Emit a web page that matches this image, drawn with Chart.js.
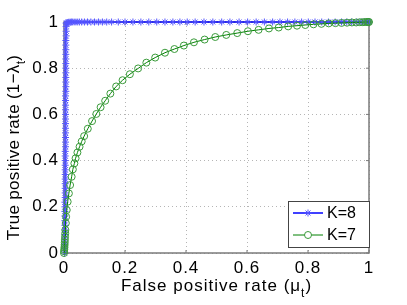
<!DOCTYPE html>
<html>
<head>
<meta charset="utf-8">
<script src="https://cdn.jsdelivr.net/npm/chart.js@4.4.1/dist/chart.umd.min.js"></script>
<style>
  html, body { margin: 0; padding: 0; background: #fff; }
  #wrap { width: 407px; height: 305px; position: relative; }
</style>
</head>
<body>
<div id="wrap"><canvas id="roc"></canvas></div>
<script>
// ROC curves
const fprK8 = [0.002, 0.002, 0.002, 0.002, 0.003, 0.003, 0.003, 0.003, 0.003, 0.003, 0.003,
  0.003, 0.004, 0.004, 0.004, 0.004, 0.004, 0.004, 0.004, 0.004, 0.004,
  0.004, 0.004, 0.005, 0.005, 0.005, 0.005, 0.005, 0.005, 0.005, 0.005,
  0.005, 0.005, 0.005, 0.005, 0.006, 0.006, 0.006, 0.006, 0.006, 0.006,
  0.006, 0.006, 0.006, 0.006, 0.006, 0.006, 0.007, 0.007, 0.007, 0.007,
  0.010, 0.013, 0.016, 0.020, 0.024, 0.029, 0.036, 0.043, 0.050, 0.058, 0.067, 0.077,
  0.088, 0.100, 0.113, 0.126, 0.140, 0.156, 0.178, 0.200, 0.226, 0.252, 0.278, 0.304,
  0.331, 0.357, 0.380, 0.404, 0.430, 0.459, 0.488, 0.517, 0.544, 0.574, 0.602, 0.630,
  0.657, 0.684, 0.708, 0.733, 0.757, 0.779, 0.801, 0.823, 0.845, 0.867, 0.889, 0.910,
  0.927, 0.943, 0.960, 0.976, 0.985, 0.992, 0.997, 1.000];
const tprK8 = [0.00, 0.02, 0.04, 0.06, 0.08, 0.10, 0.12, 0.14, 0.16, 0.18, 0.20,
  0.22, 0.24, 0.26, 0.28, 0.30, 0.32, 0.34, 0.36, 0.38, 0.40,
  0.42, 0.44, 0.46, 0.48, 0.50, 0.52, 0.54, 0.56, 0.58, 0.60,
  0.62, 0.64, 0.66, 0.68, 0.70, 0.72, 0.74, 0.76, 0.78, 0.80,
  0.82, 0.84, 0.86, 0.88, 0.90, 0.92, 0.94, 0.96, 0.98, 0.995,
  0.997, 0.998, 0.999, 0.999, 1, 1, 1, 1, 1, 1, 1, 1,
  1, 1, 1, 1, 1, 1, 1, 1, 1, 1, 1, 1,
  1, 1, 1, 1, 1, 1, 1, 1, 1, 1, 1, 1,
  1, 1, 1, 1, 1, 1, 1, 1, 1, 1, 1, 1,
  1, 1, 1, 1, 1, 1, 1, 1];

const fprK7 = [0, 0.0005, 0.001, 0.0015, 0.002, 0.0025, 0.003, 0.0035, 0.004, 0.0045,
  0.006, 0.007, 0.009, 0.012, 0.016, 0.020, 0.025, 0.029, 0.034, 0.038, 0.044, 0.051, 0.058,
  0.066, 0.078, 0.092, 0.106, 0.120, 0.135, 0.152, 0.171, 0.192, 0.216, 0.243, 0.270,
  0.299, 0.331, 0.362, 0.393, 0.426, 0.461, 0.496, 0.532, 0.568, 0.603, 0.638, 0.672,
  0.704, 0.735, 0.764, 0.791, 0.818, 0.844, 0.868, 0.890, 0.910, 0.928, 0.944, 0.958,
  0.970, 0.980, 0.988, 0.994, 0.998, 1.000];
const tprK7 = [0, 0.008, 0.016, 0.025, 0.035, 0.046, 0.058, 0.071, 0.085, 0.100,
  0.129, 0.157, 0.186, 0.222, 0.258, 0.294, 0.330, 0.362, 0.388, 0.410, 0.435, 0.460, 0.483,
  0.506, 0.538, 0.571, 0.602, 0.631, 0.659, 0.690, 0.721, 0.748, 0.774, 0.799, 0.824,
  0.846, 0.867, 0.883, 0.898, 0.912, 0.924, 0.935, 0.944, 0.952, 0.960, 0.966, 0.972,
  0.976, 0.981, 0.984, 0.987, 0.990, 0.992, 0.994, 0.995, 0.996, 0.997, 0.998, 0.998,
  0.999, 0.999, 1, 1, 1, 1];

const xTicks = [0, 0.2, 0.4, 0.6, 0.8, 1];
const yTicks = [0, 0.2, 0.4, 0.6, 0.8, 1];
const seriesNames = ['K=8', 'K=7'];

const FONT = '"Liberation Sans", Arial, Helvetica, sans-serif';
const BLUE = '#0000ff', GREEN = '#008000';

function pts(xs, ys) { return xs.map((x, i) => ({ x: x, y: ys[i] })); }

// text with a subscript, e.g. "(μ" + "t" + ")"
function drawSubText(ctx, parts, x, y, size) {
  let w = 0;
  parts.forEach(p => { ctx.font = (p.sub ? size * 0.7 : size) + 'px ' + FONT; w += ctx.measureText(p.t).width; });
  let cx = x - w / 2;
  parts.forEach(p => {
    ctx.font = (p.sub ? size * 0.7 : size) + 'px ' + FONT;
    ctx.fillText(p.t, cx, y + (p.sub ? size * 0.35 : 0));
    cx += ctx.measureText(p.t).width;
  });
}

const decor = {
  id: 'decor',
  beforeUpdate(chart) { chart.ctx.letterSpacing = '1px'; },
  beforeDraw(chart) { chart.ctx.letterSpacing = '1px'; },
  beforeDatasetsDraw(chart) {
    const { ctx, chartArea: a, scales } = chart;
    ctx.save();
    ctx.strokeStyle = '#7a7a7a';
    ctx.lineWidth = 1.5;
    ctx.strokeRect(a.left, a.top, a.right - a.left, a.bottom - a.top);
    ctx.lineWidth = 1;
    ctx.beginPath();
    xTicks.forEach(v => {
      const px = scales.x.getPixelForValue(v);
      ctx.moveTo(px, a.bottom); ctx.lineTo(px, a.bottom - 3);
      ctx.moveTo(px, a.top); ctx.lineTo(px, a.top + 3);
    });
    yTicks.forEach(v => {
      const py = scales.y.getPixelForValue(v);
      ctx.moveTo(a.left, py); ctx.lineTo(a.left + 3, py);
      ctx.moveTo(a.right, py); ctx.lineTo(a.right - 3, py);
    });
    ctx.stroke();
    ctx.restore();
  },
  afterDraw(chart) {
    const { ctx, chartArea: a } = chart;
    ctx.save();
    ctx.fillStyle = '#000';
    ctx.textBaseline = 'alphabetic';
    ctx.textAlign = 'left';
    ctx.letterSpacing = '1px';
    // x title
    drawSubText(ctx, [{ t: 'False positive rate (\u03bc' }, { t: 't', sub: true }, { t: ')' }],
      (a.left + a.right) / 2, 291, 17);
    // y title
    ctx.letterSpacing = '0.3px';
    ctx.translate(19, (a.top + a.bottom) / 2 + 10);
    ctx.rotate(-Math.PI / 2);
    drawSubText(ctx, [{ t: 'True positive rate (1\u2212\u03bb' }, { t: 't', sub: true }, { t: ')' }],
      0, 0, 17);
    ctx.restore();

    // legend box
    ctx.save();
    ctx.letterSpacing = '0px';
    const bx = 288.5, by = 201.5, bw = 81, bh = 46;
    ctx.fillStyle = '#fff';
    ctx.fillRect(bx, by, bw, bh);
    ctx.strokeStyle = '#444';
    ctx.lineWidth = 1;
    ctx.strokeRect(bx, by, bw, bh);
    const rows = [
      { name: seriesNames[0], color: BLUE, mark: '#5555ff', style: 'star', y: 213, lw: 1.5 },
      { name: seriesNames[1], color: GREEN, mark: '#3a9a3a', style: 'circle', y: 235, lw: 1 }
    ];
    rows.forEach(r => {
      ctx.strokeStyle = r.color;
      ctx.lineWidth = r.lw;
      ctx.beginPath(); ctx.moveTo(293, r.y); ctx.lineTo(323, r.y); ctx.stroke();
      ctx.strokeStyle = r.mark;
      ctx.fillStyle = '#fff';
      ctx.lineWidth = 1;
      Chart.helpers.drawPoint(ctx, { pointStyle: r.style, radius: 3.5, borderWidth: 1, rotation: 0 }, 308, r.y);
      ctx.fillStyle = '#000';
      ctx.font = '16px ' + FONT;
      ctx.textBaseline = 'middle';
      ctx.fillText(r.name, 327, r.y + 1);
    });
    ctx.restore();
  }
};

new Chart(document.getElementById('roc'), {
  type: 'line',
  data: {
    datasets: [
      { label: seriesNames[0], data: pts(fprK8, tprK8), borderColor: BLUE, borderWidth: 1.5,
        pointStyle: 'star', pointRadius: 3.5, pointBorderColor: '#5555ff', pointBorderWidth: 1,
        pointBackgroundColor: 'rgba(0,0,0,0)', fill: false, tension: 0, order: 2 },
      { label: seriesNames[1], data: pts(fprK7, tprK7), borderColor: GREEN, borderWidth: 1,
        pointStyle: 'circle', pointRadius: 3.5, pointBorderColor: '#3a9a3a', pointBorderWidth: 1,
        pointBackgroundColor: 'rgba(0,0,0,0)', fill: false, tension: 0, order: 1 }
    ]
  },
  options: {
    responsive: true,
    maintainAspectRatio: false,
    animation: false,
    clip: false,
    layout: { padding: { top: 22, right: 38, left: 0, bottom: 0 } },
    plugins: { legend: { display: false }, tooltip: { enabled: false } },
    scales: {
      x: {
        type: 'linear', min: 0, max: 1,
        afterBuildTicks: s => { s.ticks = xTicks.map(v => ({ value: v })); },
        afterFit: s => { s.height = 52; },
        ticks: { color: '#000', font: { family: FONT, size: 17 }, padding: 5, maxRotation: 0,
          callback: v => String(v) },
        grid: { color: '#b5b5b5', drawTicks: false },
        border: { display: false, dash: [1, 3] }
      },
      y: {
        type: 'linear', min: 0, max: 1,
        afterBuildTicks: s => { s.ticks = yTicks.map(v => ({ value: v })); },
        afterFit: s => { s.width = 64; },
        ticks: { color: '#000', font: { family: FONT, size: 17 }, padding: 5,
          callback: v => String(v) },
        grid: { color: '#b5b5b5', drawTicks: false },
        border: { display: false, dash: [1, 3] }
      }
    }
  },
  plugins: [decor]
});
</script>
</body>
</html>
